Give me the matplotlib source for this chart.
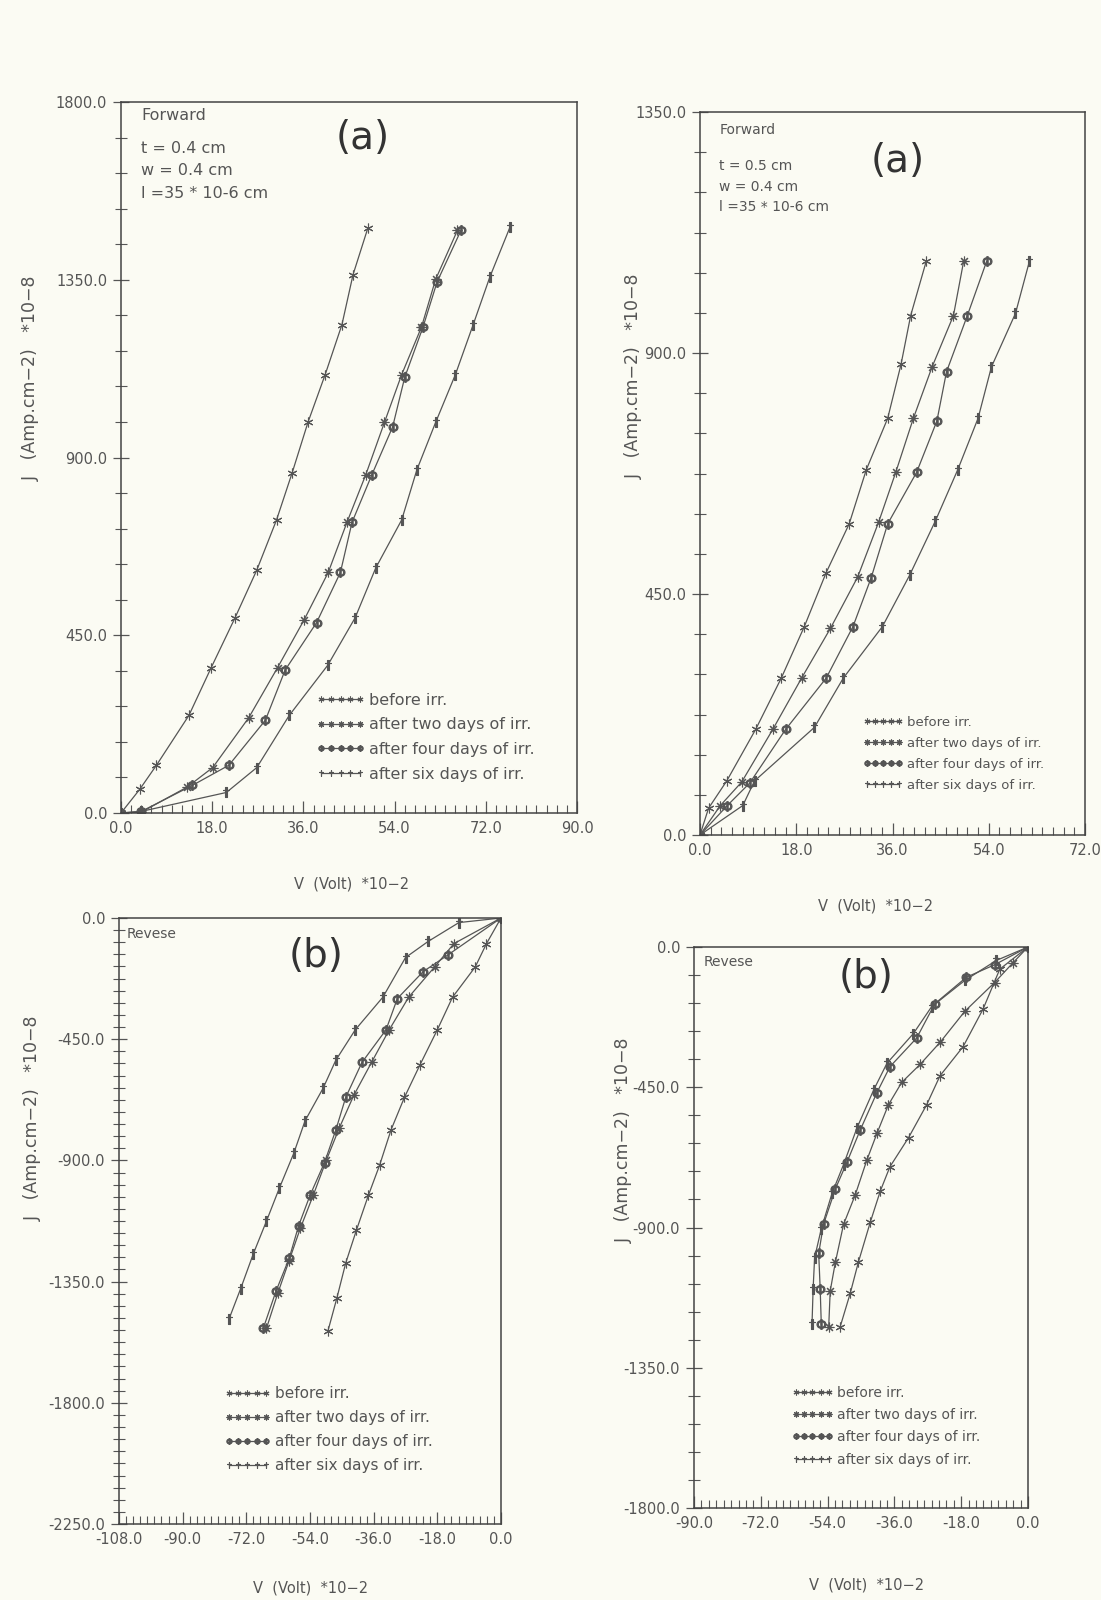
import matplotlib.pyplot as plt
from matplotlib.ticker import MultipleLocator, FormatStrFormatter

# ---- data ----
labels = ['before irr.', 'after two days of irr.',
          'after four days of irr.', 'after six days of irr.']

# (a) forward, t = 0.4 cm
fa_before_v = [0, 3.7, 7.0, 13.4, 17.8, 22.5, 26.8, 30.7, 33.8, 36.9, 40.3, 43.6, 45.8, 48.7]
fa_before_j = [0, 60, 121, 247, 368, 494, 615, 742, 862, 989, 1110, 1236, 1363, 1480]
fa_two_v = [0, 4.0, 13.1, 18.1, 25.2, 30.9, 36.1, 40.9, 44.6, 48.3, 52.0, 55.4, 59.3, 62.1, 66.4]
fa_two_j = [0, 2, 66, 115, 241, 368, 488, 609, 736, 856, 989, 1110, 1230, 1351, 1475]
fa_four_v = [0, 4.0, 14.1, 21.3, 28.5, 32.4, 38.6, 43.3, 45.6, 49.5, 53.6, 56.0, 59.6, 62.4, 67.1]
fa_four_j = [0, 4, 70, 121, 235, 362, 482, 609, 736, 856, 977, 1103, 1230, 1345, 1475]
fa_six_v = [0, 4.0, 20.8, 26.8, 33.2, 40.8, 46.2, 50.3, 55.4, 58.4, 62.1, 66.0, 69.5, 72.8, 76.8]
fa_six_j = [0, 4, 52, 115, 247, 374, 494, 621, 742, 869, 989, 1110, 1236, 1357, 1484]

# (a) forward, t = 0.5 cm
fb_before_v = [0, 1.6, 5.0, 10.4, 15.2, 19.5, 23.6, 27.9, 31.1, 35.1, 37.6, 39.4, 42.3]
fb_before_j = [0, 50, 101, 197, 293, 389, 490, 581, 682, 778, 879, 970, 1071]
fb_two_v = [0, 3.8, 7.8, 13.6, 19.0, 24.4, 29.5, 33.4, 36.6, 39.9, 43.4, 47.4, 49.3]
fb_two_j = [0, 55, 99, 197, 293, 386, 482, 584, 677, 778, 874, 970, 1071]
fb_four_v = [0, 5.1, 9.3, 16.0, 23.6, 28.6, 32.0, 35.1, 40.5, 44.3, 46.1, 50.0, 53.6]
fb_four_j = [0, 55, 97, 197, 293, 389, 480, 581, 677, 773, 865, 970, 1071]
fb_six_v = [0, 8.0, 10.2, 21.4, 26.8, 34.1, 39.2, 44.0, 48.2, 52.0, 54.5, 59.0, 61.6]
fb_six_j = [0, 55, 101, 201, 293, 389, 485, 586, 682, 778, 874, 974, 1071]

# (b) reverse, t = 0.4 cm
ra_before_v = [0, -4.1, -7.3, -13.7, -18.0, -22.9, -27.3, -31.1, -34.3, -37.5, -40.9, -43.9, -46.4, -48.9]
ra_before_j = [0, -95, -182, -294, -415, -545, -666, -787, -917, -1030, -1160, -1281, -1411, -1532]
ra_two_v = [0, -13.3, -18.8, -26.1, -31.6, -36.6, -41.6, -45.7, -49.4, -53.1, -56.7, -59.9, -63.1, -66.3]
ra_two_j = [0, -95, -182, -294, -415, -536, -658, -779, -900, -1030, -1151, -1272, -1393, -1523]
ra_four_v = [0, -15.1, -22.0, -29.3, -32.5, -39.3, -43.9, -46.7, -49.9, -54.0, -57.2, -59.9, -63.6, -67.2]
ra_four_j = [0, -138, -199, -299, -415, -536, -666, -787, -908, -1030, -1142, -1264, -1385, -1523]
ra_six_v = [0, -11.9, -20.6, -27.0, -33.4, -41.2, -46.7, -50.3, -55.4, -58.6, -62.7, -66.3, -70.0, -73.6, -76.9]
ra_six_j = [0, -17, -87, -147, -294, -415, -528, -632, -753, -874, -1004, -1125, -1246, -1376, -1489]

# (b) reverse, t = 0.5 cm
rb_before_v = [0, -7.6, -12.1, -17.5, -23.7, -27.3, -32.2, -37.2, -39.8, -42.5, -45.7, -47.9, -50.6]
rb_before_j = [0, -71, -199, -320, -413, -506, -612, -705, -783, -883, -1011, -1111, -1218]
rb_two_v = [0, -4.0, -9.0, -17.0, -23.7, -29.1, -34.0, -37.6, -40.7, -43.4, -46.6, -49.7, -51.9, -53.3, -53.7]
rb_two_j = [0, -50, -114, -206, -306, -377, -434, -506, -598, -683, -797, -890, -1011, -1104, -1218]
rb_four_v = [0, -9.0, -16.6, -25.1, -30.0, -37.2, -40.7, -45.2, -48.8, -51.9, -55.1, -56.4, -56.0, -55.7]
rb_four_j = [0, -57, -97, -182, -292, -384, -467, -587, -691, -776, -890, -983, -1096, -1210]
rb_six_v = [0, -8.5, -17.0, -26.0, -30.9, -38.0, -41.6, -46.1, -49.7, -52.8, -55.7, -57.5, -57.9, -58.2]
rb_six_j = [0, -43, -107, -192, -278, -373, -459, -581, -698, -790, -904, -997, -1096, -1210]

markers = [(6, 2, 0), (8, 2, 0), '$\\Phi$', '$\\dagger$']
paper = '#fbfbf3'
ink = '#555555'

fig = plt.figure(figsize=(11.01, 16.0), dpi=100, facecolor=paper)


def make_panel(rect, xlim, ylim, xstep, ystep, yminor, series, leg_xy, leg_fs,
               head, info, info_fs, tag, tag_xy):
    ax = fig.add_axes(rect, facecolor=paper)
    for (v, j), lab, m in zip(series, labels, markers):
        ax.plot(v, j, color=ink, lw=0.9, marker=m, ms=7, mew=0.8,
                mfc=ink, mec=ink, label=lab)
    ax.set_xlim(*xlim)
    ax.set_ylim(*ylim)
    ax.xaxis.set_major_locator(MultipleLocator(xstep))
    ax.xaxis.set_minor_locator(MultipleLocator(2))
    ax.yaxis.set_major_locator(MultipleLocator(ystep))
    ax.yaxis.set_minor_locator(MultipleLocator(yminor))
    ax.xaxis.set_major_formatter(FormatStrFormatter('%.1f'))
    ax.yaxis.set_major_formatter(FormatStrFormatter('%.1f'))
    ax.tick_params(axis='x', which='major', direction='in', length=9, width=0.9,
                   colors=ink, labelsize=10.5, pad=6)
    ax.tick_params(axis='x', which='minor', direction='in', length=6, width=0.8, colors=ink)
    ax.tick_params(axis='y', which='major', direction='inout', length=12, width=0.9,
                   colors=ink, labelsize=10.5, pad=4)
    ax.tick_params(axis='y', which='minor', direction='inout', length=8, width=0.8, colors=ink)
    for s in ax.spines.values():
        s.set_color('#444444')
        s.set_linewidth(1.1)
    leg = ax.legend(loc='upper left', bbox_to_anchor=leg_xy, frameon=False,
                    numpoints=5, markerscale=0.6, handlelength=3.0, handletextpad=0.3,
                    labelspacing=0.6, borderaxespad=0, fontsize=leg_fs)
    for t in leg.get_texts():
        t.set_color(ink)
    # header line, then the sample parameters a little lower
    ax.text(head[0], head[1], head[2], transform=ax.transAxes, ha='left', va='top',
            fontsize=info_fs, color=ink)
    if info:
        ax.text(info[0], info[1], info[2], transform=ax.transAxes, ha='left', va='top',
                fontsize=info_fs, color=ink, linespacing=1.6)
    ax.text(tag_xy[0], tag_xy[1], tag, transform=ax.transAxes, ha='center', va='center',
            fontsize=28, color='#333333')
    return ax


w_l, h_t = 1101.0, 1600.0


def rect(left, right, top, bottom):
    return [left / w_l, 1 - bottom / h_t, (right - left) / w_l, (bottom - top) / h_t]


make_panel(rect(121, 577, 102, 813), (0, 90), (0, 1800), 18, 450, 90,
           [(fa_before_v, fa_before_j), (fa_two_v, fa_two_j),
            (fa_four_v, fa_four_j), (fa_six_v, fa_six_j)],
           (0.415, 0.178), 11.5, (0.044, 0.992, 'Forward'),
           (0.044, 0.945, 't = 0.4 cm\nw = 0.4 cm\nl =35 * 10-6 cm'), 11.5,
           '(a)', (0.53, 0.95))

make_panel(rect(700, 1085, 112, 835), (0, 72), (0, 1350), 18, 450, 75,
           [(fb_before_v, fb_before_j), (fb_two_v, fb_two_j),
            (fb_four_v, fb_four_j), (fb_six_v, fb_six_j)],
           (0.41, 0.172), 9.5, (0.05, 0.985, 'Forward'),
           (0.05, 0.935, 't = 0.5 cm\nw = 0.4 cm\nl =35 * 10-6 cm'), 10,
           '(a)', (0.514, 0.932))

make_panel(rect(119, 501, 918, 1524), (-108, 0), (-2250, 0), 18, 450, 45,
           [(ra_before_v, ra_before_j), (ra_two_v, ra_two_j),
            (ra_four_v, ra_four_j), (ra_six_v, ra_six_j)],
           (0.26, 0.238), 11, (0.02, 0.985, 'Revese'), None, 10,
           '(b)', (0.516, 0.937))

make_panel(rect(694, 1028, 947, 1508), (-90, 0), (-1800, 0), 18, 450, 90,
           [(rb_before_v, rb_before_j), (rb_two_v, rb_two_j),
            (rb_four_v, rb_four_j), (rb_six_v, rb_six_j)],
           (0.275, 0.228), 10, (0.03, 0.985, 'Revese'), None, 10,
           '(b)', (0.516, 0.946))

# axis titles placed like the scan
ylab = 'J   (Amp.cm\u22122)   *10\u22128'
xlab = 'V  (Volt)  *10\u22122'
for x, y in [(31, 378), (634, 376), (33, 1118), (624, 1140)]:
    fig.text(x / w_l, 1 - y / h_t, ylab, rotation=90, ha='center', va='center',
             fontsize=12.5, color=ink)
for x, y in [(352, 884), (876, 906), (311, 1588), (867, 1585)]:
    fig.text(x / w_l, 1 - y / h_t, xlab, ha='center', va='center',
             fontsize=10.5, color=ink)

fig.savefig('out.png', dpi=100, facecolor=paper)
